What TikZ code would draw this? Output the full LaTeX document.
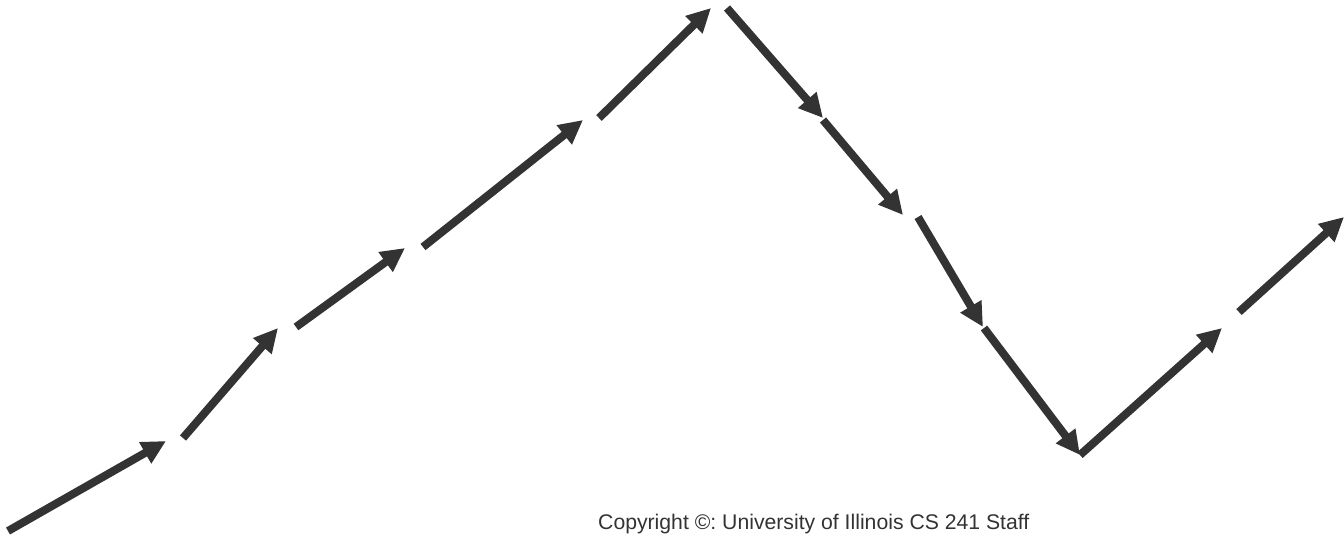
\documentclass[tikz,border=0pt]{standalone}
\usepackage{fontspec}
\setmainfont{Liberation Sans}
\usetikzlibrary{arrows.meta}
\definecolor{arrowgray}{HTML}{333333}
\frenchspacing

\begin{document}
\begin{tikzpicture}[
    x=1pt, y=-1pt,
    flow/.style={
        draw=arrowgray,
        line width=8pt,
        -{Triangle[length=24pt,width=23pt]}
    },
    note/.style={font=\fontsize{21.2}{25}\selectfont, text=arrowgray, inner sep=0pt, anchor=base west}
]
    \useasboundingbox (0,0) rectangle (1344,539);

    % rising part
    \coordinate (rise-a-start) at (8,531);
    \coordinate (rise-a-end) at (166,441);
    \coordinate (rise-b-start) at (183,438);
    \coordinate (rise-b-end) at (278,328);
    \coordinate (rise-c-start) at (296,327);
    \coordinate (rise-c-end) at (405,248);
    \coordinate (rise-d-start) at (423,247);
    \coordinate (rise-d-end) at (583,120);
    \coordinate (rise-e-start) at (599,118);
    \coordinate (rise-e-end) at (711,8);

    % falling part
    \coordinate (fall-a-start) at (727,8);
    \coordinate (fall-a-end) at (823,118);
    \coordinate (fall-b-start) at (823,120);
    \coordinate (fall-b-end) at (903,215);
    \coordinate (fall-c-start) at (918,217);
    \coordinate (fall-c-end) at (983,327);
    \coordinate (fall-d-start) at (984,328);
    \coordinate (fall-d-end) at (1080,455);

    % rising again
    \coordinate (again-a-start) at (1080,455);
    \coordinate (again-a-end) at (1222,328);
    \coordinate (again-b-start) at (1239,312);
    \coordinate (again-b-end) at (1344,217);

    \draw[flow] (rise-a-start) -- (rise-a-end);
    \draw[flow] (rise-b-start) -- (rise-b-end);
    \draw[flow] (rise-c-start) -- (rise-c-end);
    \draw[flow] (rise-d-start) -- (rise-d-end);
    \draw[flow] (rise-e-start) -- (rise-e-end);

    \draw[flow] (fall-a-start) -- (fall-a-end);
    \draw[flow] (fall-b-start) -- (fall-b-end);
    \draw[flow] (fall-c-start) -- (fall-c-end);
    \draw[flow] (fall-d-start) -- (fall-d-end);

    \draw[flow] (again-a-start) -- (again-a-end);
    \draw[flow] (again-b-start) -- (again-b-end);

    \node[note] (copyright) at (598,529) {Copyright ©: University of Illinois CS 241 Staff};
\end{tikzpicture}
\end{document}
